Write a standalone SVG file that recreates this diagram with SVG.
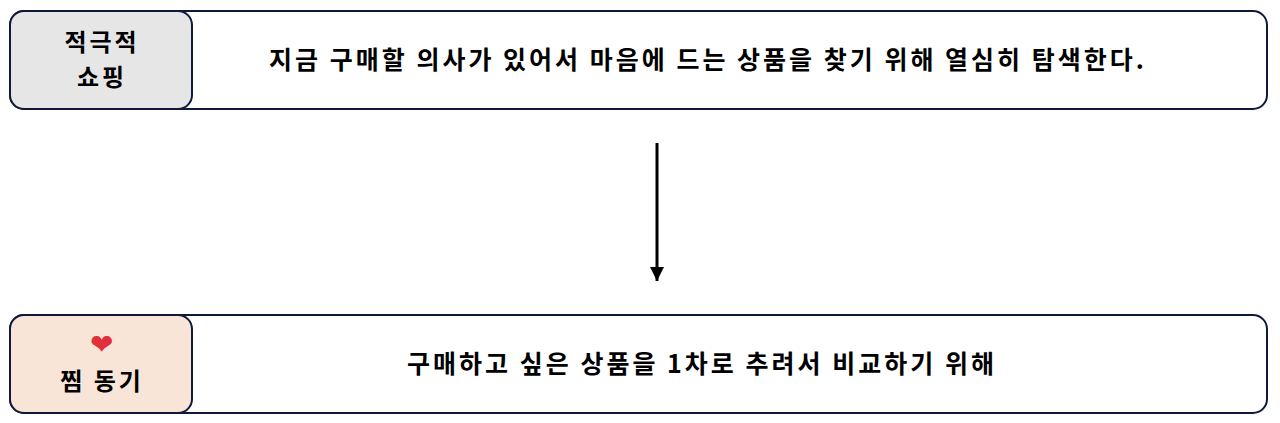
<svg xmlns="http://www.w3.org/2000/svg" width="1280" height="423" viewBox="0 0 1280 423">
<defs>
<style>
.box{fill:#fff;stroke:#0f1a3a;stroke-width:2}
.lab{stroke:#0f1a3a;stroke-width:2}
text{font-family:"Noto Sans CJK KR","Noto Sans",sans-serif;font-weight:bold;fill:#000;text-anchor:middle;letter-spacing:3px}
.t{font-size:25px}
.l{font-size:24px}
</style>
<marker id="ah" markerWidth="14" markerHeight="16" refX="14" refY="7" orient="auto" markerUnits="userSpaceOnUse" viewBox="0 0 14 14"><path d="M0,0 L14,7 L0,14 z" fill="#000"/></marker>
</defs>
<g id="node1">
<rect class="box" x="10" y="11" width="1257" height="98" rx="14"/>
<rect class="lab" x="10" y="11" width="182" height="98" rx="14" fill="#e6e6e6"/>
<text class="l" x="102" y="51">적극적</text>
<text class="l" x="102" y="86">쇼핑</text>
<text class="t" x="708" y="69">지금 구매할 의사가 있어서 마음에 드는 상품을 찾기 위해 열심히 탐색한다.</text>
</g>
<g id="node2">
<rect class="box" x="10" y="315" width="1257" height="98" rx="14"/>
<rect class="lab" x="10" y="315" width="182" height="98" rx="14" fill="#f8e5d8"/>
<text x="101" y="354" font-size="28" style="fill:#e0303a;font-weight:normal;letter-spacing:0">❤</text>
<text class="l" x="102" y="390">찜 동기</text>
<text class="t" x="702" y="373">구매하고 싶은 상품을 1차로 추려서 비교하기 위해</text>
</g>
<g id="connectors">
<line x1="657" y1="143" x2="657" y2="281" stroke="#000" stroke-width="3" marker-end="url(#ah)"/>
</g>
</svg>
